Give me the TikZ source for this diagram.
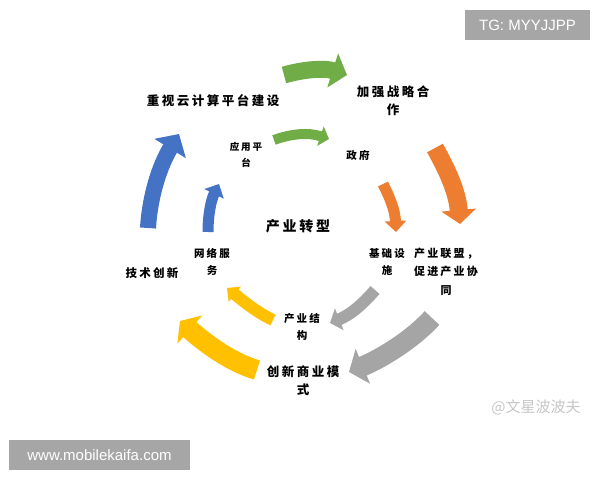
\documentclass[tikz,border=0pt]{standalone}
\usepackage{fontspec}
\setmainfont{Liberation Sans}
\newfontfamily\cjk[LetterSpace=20]{Noto Sans CJK SC}
\newfontfamily\cjkw{Noto Sans CJK SC}
\usetikzlibrary{arrows.meta}
\definecolor{cblue}{HTML}{4472C4}
\definecolor{corange}{HTML}{ED7D31}
\definecolor{cgray}{HTML}{A5A5A5}
\definecolor{cyellow}{HTML}{FFC000}
\definecolor{cgreen}{HTML}{70AD47}
\definecolor{boxgray}{HTML}{A6A6A6}
\begin{document}
\begin{tikzpicture}[x=1pt,y=-1pt,
  lbl/.style={align=center,inner sep=0pt,text=black},
  bigarrow/.style n args={4}{draw=#1,line width=#2pt,line cap=butt,
     -{Triangle[width=#3pt,length=#4pt]}},
  tagbox/.style={fill=boxgray,text=white,inner sep=0pt,font=\fontsize{15}{18}\selectfont}]
\useasboundingbox (0,0) rectangle (600,480);
\fill[white] (0,0) rectangle (600,480);

% ---- labels ----
\node[lbl,font=\cjk\bfseries\fontsize{12.5}{18}\selectfont] (t1) at (213,101) {重视云计算平台建设};
\node[lbl,font=\cjk\bfseries\fontsize{12.5}{18}\selectfont] (t2) at (393,101) {加强战略合\\作};
\node[lbl,font=\cjk\bfseries\fontsize{9.5}{16}\selectfont] (t3) at (246,155) {应用平\\台};
\node[lbl,font=\cjk\bfseries\fontsize{10.5}{16}\selectfont] (t4) at (358,155) {政府};
\node[lbl,font=\cjk\bfseries\fontsize{14}{18}\selectfont] (t5) at (298,226) {产业转型};
\node[lbl,font=\cjk\bfseries\fontsize{10.5}{17}\selectfont] (t6) at (212,261.5) {网络服\\务};
\node[lbl,font=\cjk\bfseries\fontsize{11.5}{17}\selectfont] (t7) at (152,273) {技术创新};
\node[lbl,font=\cjk\bfseries\fontsize{10.5}{17}\selectfont] (t8) at (387,261.5) {基础设\\施};
\node[lbl,font=\cjk\bfseries\fontsize{11}{18.5}\selectfont] (t9) at (446,271.5) {产业联盟，\\促进产业协\\同};
\node[lbl,font=\cjk\bfseries\fontsize{10.5}{17}\selectfont] (t10) at (302,326.5) {产业结\\构};
\node[lbl,font=\cjk\bfseries\fontsize{12.5}{18}\selectfont] (t11) at (303,381) {创新商业模\\式};

% ---- arrow end points ----
\coordinate (bo1) at (148,228); \coordinate (bo2) at (179,134);
\coordinate (bi1) at (208,232); \coordinate (bi2) at (219,184);
\coordinate (go1) at (284,75);  \coordinate (go2) at (347,75);
\coordinate (gi1) at (274,140); \coordinate (gi2) at (329,139);
\coordinate (oo1) at (435,148); \coordinate (oo2) at (460,224);
\coordinate (oi1) at (383,184); \coordinate (oi2) at (396,232);
\coordinate (ao1) at (432,318); \coordinate (ao2) at (349,372);
\coordinate (ai1) at (375,290); \coordinate (ai2) at (330,323);
\coordinate (yo1) at (257,370); \coordinate (yo2) at (180,321);
\coordinate (yi1) at (273,320); \coordinate (yi2) at (227,288);

% ---- arrows ----
\draw[bigarrow={cblue}{16}{36}{17}] (bo1) .. controls (150,195) and (160,165) .. (bo2);
\draw[bigarrow={cblue}{11}{21}{11}] (bi1) .. controls (208,215) and (211,200) .. (bi2);
\draw[bigarrow={cgreen}{17}{35}{15}] (go1) .. controls (305,69) and (325,68) .. (go2);
\draw[bigarrow={cgreen}{10}{20}{9}] (gi1) .. controls (290,134) and (308,132) .. (gi2);
\draw[bigarrow={corange}{18}{34}{14}] (oo1) .. controls (446,168) and (457,190) .. (oo2);
\draw[bigarrow={corange}{11}{21}{11}] (oi1) .. controls (390,198) and (395,210) .. (oi2);
\draw[bigarrow={cgray}{20}{37}{15}] (ao1) .. controls (410,342) and (378,360) .. (ao2);
\draw[bigarrow={cgray}{12}{23}{10}] (ai1) .. controls (362,305) and (350,315) .. (ai2);
\draw[bigarrow={cyellow}{20}{37}{13}] (yo1) .. controls (230,362) and (205,343) .. (yo2);
\draw[bigarrow={cyellow}{12}{19}{10}] (yi1) .. controls (256,312) and (242,300) .. (yi2);

% ---- tags ----
\node[tagbox,minimum width=125pt,minimum height=30pt] (tg) at (527.5,25) {TG: MYYJJPP};
\node[tagbox,minimum width=181pt,minimum height=30pt] (www) at (99.5,455) {www.mobilekaifa.com};
\node[inner sep=0pt,text=gray!45,font=\cjkw\fontsize{15}{18}\selectfont] (wm) at (536,407) {@文星波波夫};
\end{tikzpicture}
\end{document}
